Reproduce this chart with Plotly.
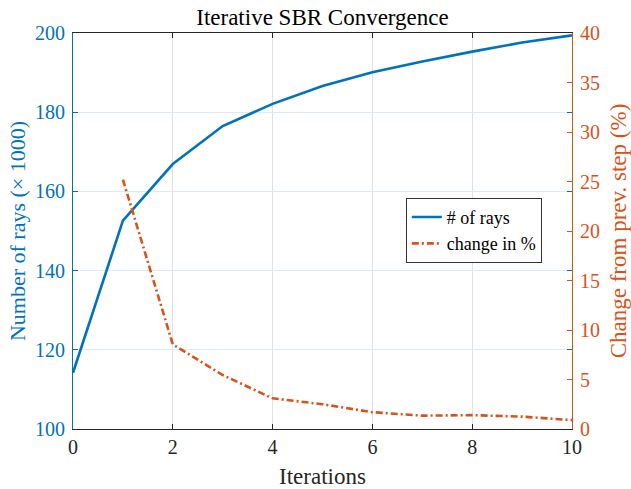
import plotly.graph_objects as go

# Iteration index and the two measured series
iterations = [0, 1, 2, 3, 4, 5, 6, 7, 8, 9, 10]
num_rays_k = [114.2, 152.6, 166.9, 176.5, 182.1, 186.6, 190.1, 192.8, 195.3, 197.6, 199.4]
change_iters = [1, 2, 3, 4, 5, 6, 7, 8, 9, 10]
change_pct = [25.2, 8.55, 5.45, 3.1, 2.5, 1.7, 1.35, 1.4, 1.25, 0.9]

x_ticks = [0, 2, 4, 6, 8, 10]
left_ticks = [100, 120, 140, 160, 180, 200]
right_ticks = [0, 5, 10, 15, 20, 25, 30, 35, 40]

BLUE = "#0072BD"
ORANGE = "#D95319"
DARK = "#262626"
FONT = "Liberation Serif"

fig = go.Figure()
fig.add_trace(go.Scatter(
    x=iterations, y=num_rays_k, mode="lines", name="# of rays",
    line=dict(color=BLUE, width=2.6), yaxis="y",
))
fig.add_trace(go.Scatter(
    x=change_iters, y=change_pct, mode="lines", name="change in %",
    line=dict(color=ORANGE, width=2.6, dash="7px,3px,2px,3px"), yaxis="y2",
))

fig.update_layout(
    width=631, height=489,
    margin=dict(l=73, r=59, t=33, b=60),
    paper_bgcolor="white", plot_bgcolor="white",
    font=dict(family=FONT, size=20, color=DARK),
    title=dict(text="Iterative SBR Convergence", x=0.5, xref="paper", xanchor="center",
               y=1 - 17 / 489, yref="container", yanchor="middle",
               font=dict(size=23, color="black")),
    xaxis=dict(
        range=[0, 10], tickvals=x_ticks, ticks="inside", ticklen=5, tickcolor=DARK,
        showline=True, linecolor=DARK, linewidth=1, mirror="ticks",
        showgrid=True, gridcolor="#e2e2e2", gridwidth=1, zeroline=False,
        tickfont=dict(size=20, color=DARK), automargin=False,
        title=dict(text="Iterations", font=dict(size=23, color=DARK), standoff=10),
    ),
    yaxis=dict(
        range=[100, 200], tickvals=left_ticks, ticks="inside", ticklen=5, tickcolor=BLUE,
        showline=True, linecolor=BLUE, linewidth=1, mirror="ticks",
        showgrid=True, gridcolor="#deebf6", gridwidth=1, zeroline=False,
        tickfont=dict(size=20, color=BLUE), ticklabelstandoff=3, automargin=False,
        title=dict(text="Number of rays (× 1000)", font=dict(size=22, color=BLUE), standoff=3),
    ),
    yaxis2=dict(
        range=[0, 40], tickvals=right_ticks, ticks="inside", ticklen=5, tickcolor=ORANGE,
        showline=True, linecolor=ORANGE, linewidth=1,
        overlaying="y", side="right", showgrid=False, zeroline=False,
        tickfont=dict(size=20, color=ORANGE), ticklabelstandoff=3, automargin=False,
        title=dict(text="Change from prev. step (%)", font=dict(size=23, color=ORANGE), standoff=12),
    ),
    legend=dict(
        x=0.667, y=0.584, xanchor="left", yanchor="top",
        bgcolor="white", bordercolor="#333333", borderwidth=1,
        font=dict(size=18, color="black"),
        tracegroupgap=0, itemwidth=30,
    ),
    showlegend=True,
)

fig.write_html("out.html")
